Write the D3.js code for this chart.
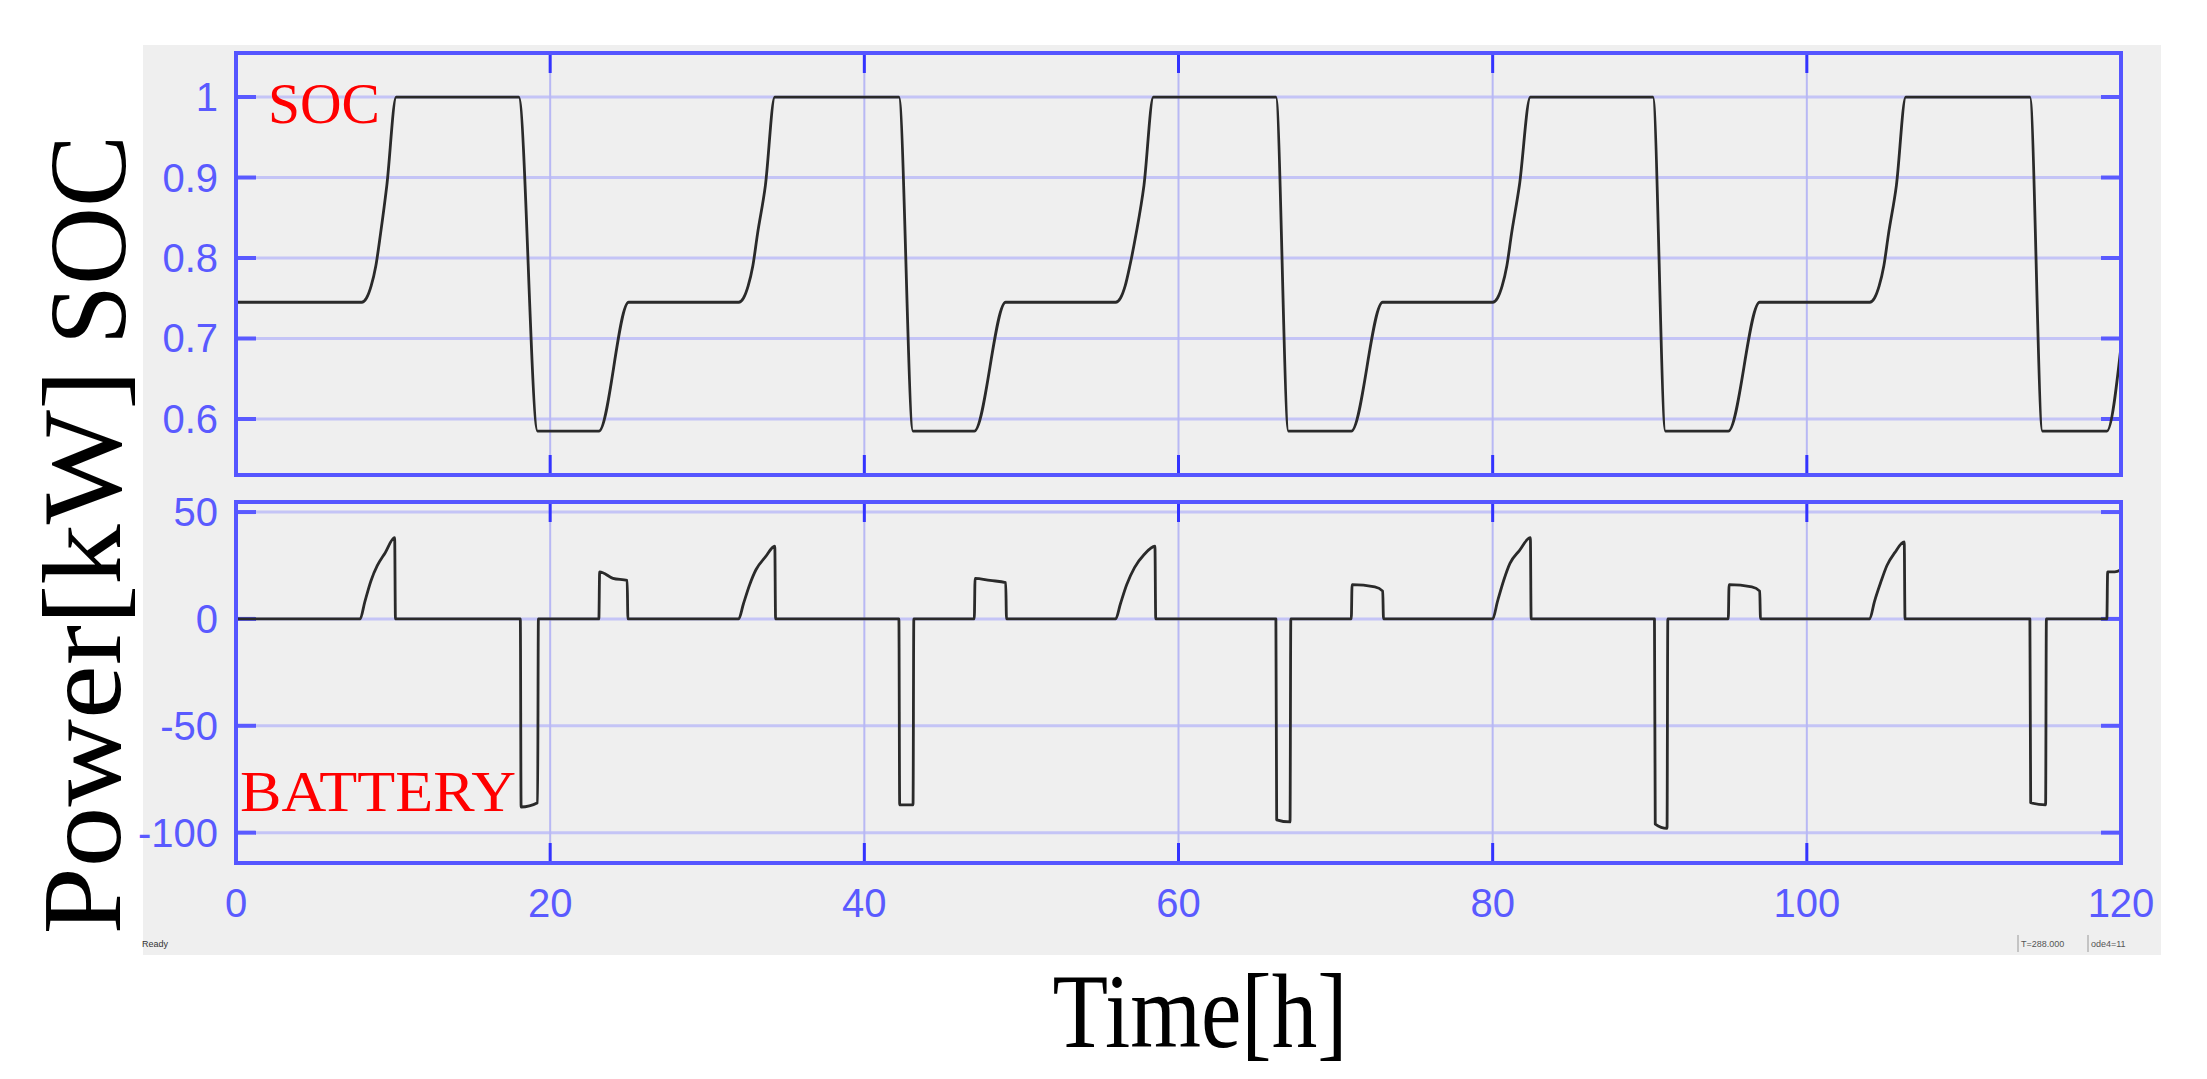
<!DOCTYPE html>
<html><head><meta charset="utf-8">
<script src="https://cdn.jsdelivr.net/npm/d3@7"></script>
<style>body{margin:0;background:#fff}svg{display:block}</style>
</head><body>
<svg id="c" width="2207" height="1079"></svg>
<script>
const socTime = [0,8,8.3,8.6,8.9,9.2,9.6,10.2,18,19.2,23.1,25,
  32,32.3,32.6,32.9,33.2,33.7,34.3,42.2,43.1,47,49,
  56,56.3,56.6,56.9,57.3,57.8,58.4,66.2,67,71,73,
  80,80.3,80.6,80.9,81.2,81.7,82.4,90.2,91,95,97,
  104,104.3,104.6,104.9,105.2,105.7,106.3,114.2,115,119.1,120];
const socValue = [0.745,0.745,0.75,0.765,0.79,0.83,0.89,1.0,1.0,0.585,0.585,0.745,
  0.745,0.75,0.765,0.79,0.83,0.89,1.0,1.0,0.585,0.585,0.745,
  0.745,0.75,0.765,0.79,0.83,0.89,1.0,1.0,0.585,0.585,0.745,
  0.745,0.75,0.765,0.79,0.83,0.89,1.0,1.0,0.585,0.585,0.745,
  0.745,0.75,0.765,0.79,0.83,0.89,1.0,1.0,0.585,0.585,0.69];
const powTime = [0,0.05,7.9,8.2,8.6,9,9.5,10.1,10.15,18.1,18.15,19.2,19.25,23.1,23.15,24,24.9,24.95,
  32,32.3,32.7,33.1,33.7,34.3,34.35,42.2,42.25,43.1,43.15,47,47.05,48,49,49.05,
  56,56.3,56.7,57.2,57.8,58.5,58.55,66.2,66.25,67.1,67.15,71,71.05,72.5,73,73.05,
  80,80.3,80.7,81.1,81.7,82.4,82.45,90.3,90.35,91.1,91.15,95,95.05,96.5,97,97.05,
  104,104.3,104.7,105.1,105.6,106.2,106.25,114.2,114.25,115.2,115.25,119.1,119.15,119.6,120];
const powValue = [15,0,0,8,18,25,31,38,0,0,-88,-86,0,0,22,19,18,0,
  0,7,16,23,29,34,0,0,-87,-87,0,0,19,18,17,0,
  0,7,16,24,30,34,0,0,-94,-95,0,0,16,15,13,0,
  0,8,18,26,32,38,0,0,-96,-98,0,0,16,15,13,0,
  0,8,17,25,31,36,0,0,-86,-87,0,0,22,22,23];
const xTicks = [0,20,40,60,80,100,120];
const socTicks = [0.6,0.7,0.8,0.9,1];
const powTicks = [-100,-50,0,50];

const svg = d3.select("#c");
const L=236,R=2121;
const blue="#3333ff", grid="#c4c4f6", tickCol="#5a5aff";
svg.append("rect").attr("x",143).attr("y",45).attr("width",2018).attr("height",910).attr("fill","#efefef");

const x = d3.scaleLinear().domain([0,120]).range([L,R]);
const ySoc = d3.scaleLinear().domain([0.5304,1.0547]).range([475,53]);
const yPow = d3.scaleLinear().domain([-114.2,54.7]).range([863,502]);

function panel(y, ticks, fmt, top, bot, times, vals){
  const g = svg.append("g");
  g.selectAll("line.h").data(ticks).join("line")
    .attr("x1",L).attr("x2",R).attr("y1",d=>y(d)).attr("y2",d=>y(d))
    .attr("stroke",grid).attr("stroke-width",3);
  g.selectAll("line.v").data(xTicks.slice(1,-1)).join("line")
    .attr("x1",d=>x(d)).attr("x2",d=>x(d)).attr("y1",top).attr("y2",bot)
    .attr("stroke","#b8b8f4").attr("stroke-width",2);
  ticks.forEach(t=>{
    g.append("line").attr("x1",L).attr("x2",L+20).attr("y1",y(t)).attr("y2",y(t)).attr("stroke",tickCol).attr("stroke-width",4);
    g.append("line").attr("x1",R-20).attr("x2",R).attr("y1",y(t)).attr("y2",y(t)).attr("stroke",tickCol).attr("stroke-width",4);
  });
  xTicks.forEach(t=>{
    g.append("line").attr("x1",x(t)).attr("x2",x(t)).attr("y1",bot-20).attr("y2",bot).attr("stroke",blue).attr("stroke-width",3);
    g.append("line").attr("x1",x(t)).attr("x2",x(t)).attr("y1",top).attr("y2",top+20).attr("stroke",blue).attr("stroke-width",3);
  });
  const line = d3.line().x(d=>x(d[0])).y(d=>y(d[1])).curve(d3.curveMonotoneX);
  g.append("path").datum(times.map((t,i)=>[t,vals[i]])).attr("d",line)
    .attr("fill","none").attr("stroke","#2a2a2a").attr("stroke-width",2.8).attr("stroke-linejoin","round");
  g.append("rect").attr("x",L).attr("y",top).attr("width",R-L).attr("height",bot-top)
    .attr("fill","none").attr("stroke","#5555ff").attr("stroke-width",4);
  g.selectAll("text.t").data(ticks).join("text")
    .attr("x",218).attr("y",d=>y(d)+14).attr("text-anchor","end")
    .attr("font-family","Liberation Sans, Arial").attr("font-size",40).attr("fill",tickCol)
    .text(fmt);
}
panel(ySoc, socTicks, d=>d3.format("~g")(d), 53, 475, socTime, socValue);
panel(yPow, powTicks, d=>d, 502, 863, powTime, powValue);

svg.selectAll("text.xt").data(xTicks).join("text")
  .attr("x",d=>x(d)).attr("y",917).attr("text-anchor","middle")
  .attr("font-family","Liberation Sans, Arial").attr("font-size",40).attr("fill",tickCol).text(d=>d);

const serif="Liberation Serif, Times New Roman, serif";
svg.append("text").attr("x",268).attr("y",123).attr("font-family",serif).attr("font-size",58)
  .attr("fill","#ff0000").attr("textLength",112).attr("lengthAdjust","spacingAndGlyphs").text("SOC");
svg.append("text").attr("x",240).attr("y",811).attr("font-family",serif).attr("font-size",58)
  .attr("fill","#ff0000").attr("textLength",276).attr("lengthAdjust","spacingAndGlyphs").text("BATTERY");

svg.append("text").attr("transform","translate(125,240) rotate(-90)").attr("text-anchor","middle")
  .attr("font-family",serif).attr("font-size",110).attr("fill","#000")
  .attr("textLength",210).attr("lengthAdjust","spacingAndGlyphs").text("SOC");
svg.append("text").attr("transform","translate(120,652) rotate(-90)").attr("text-anchor","middle")
  .attr("font-family",serif).attr("font-size",112).attr("fill","#000")
  .attr("textLength",565).attr("lengthAdjust","spacingAndGlyphs").text("Power[kW]");
svg.append("text").attr("x",1200).attr("y",1047).attr("text-anchor","middle")
  .attr("font-family",serif).attr("font-size",106).attr("fill","#000")
  .attr("textLength",295).attr("lengthAdjust","spacingAndGlyphs").text("Time[h]");

svg.append("text").attr("x",142).attr("y",947).attr("font-family","Liberation Sans").attr("font-size",9).attr("fill","#333").text("Ready");
svg.append("line").attr("x1",2018).attr("x2",2018).attr("y1",935).attr("y2",952).attr("stroke","#999");
svg.append("text").attr("x",2021).attr("y",947).attr("font-family","Liberation Sans").attr("font-size",9).attr("fill","#555").text("T=288.000");
svg.append("line").attr("x1",2088).attr("x2",2088).attr("y1",935).attr("y2",952).attr("stroke","#999");
svg.append("text").attr("x",2091).attr("y",947).attr("font-family","Liberation Sans").attr("font-size",9).attr("fill","#555").text("ode4=11");
</script>
</body></html>
